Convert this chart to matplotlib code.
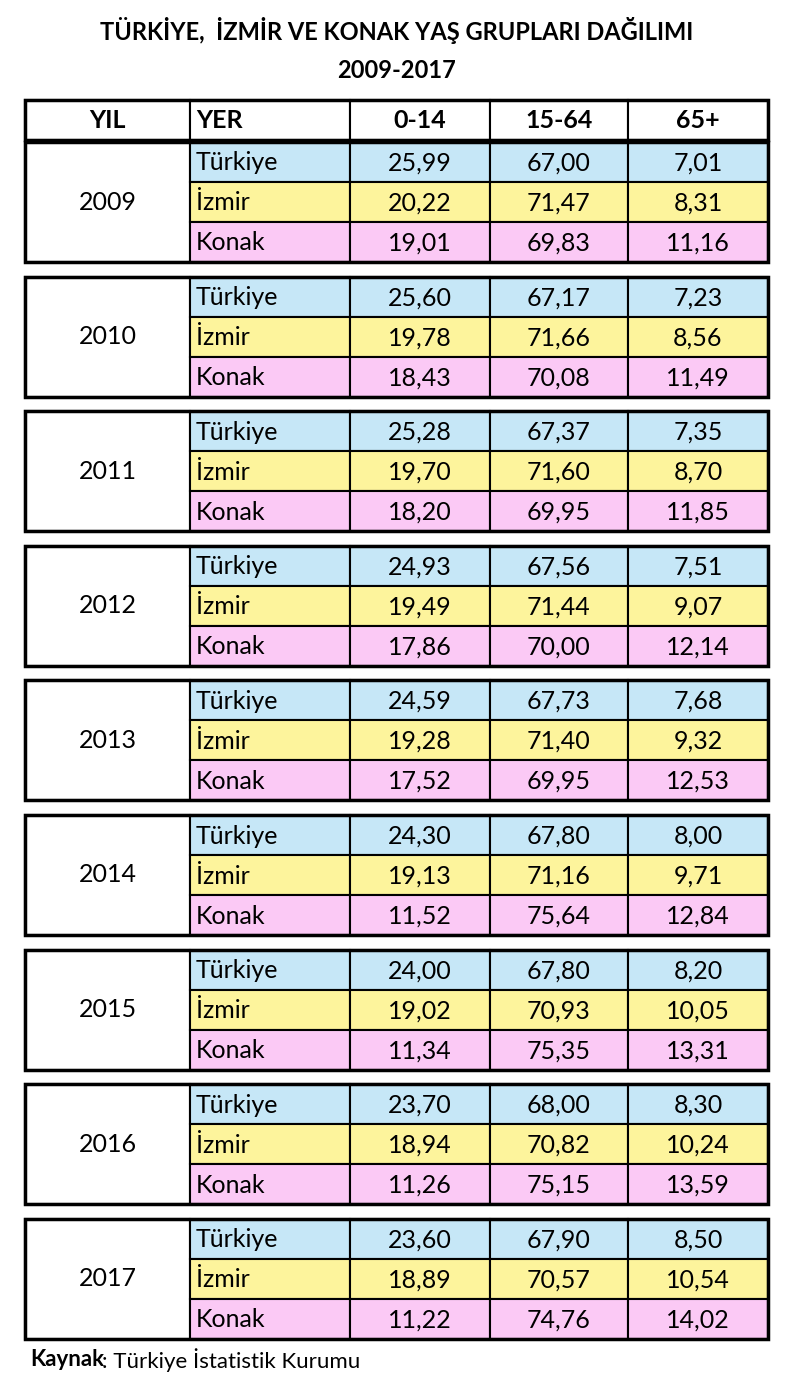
import matplotlib.pyplot as plt
from matplotlib.patches import Rectangle

years = ["2009", "2010", "2011", "2012", "2013", "2014", "2015", "2016", "2017"]
places = ["Türkiye", "İzmir", "Konak"]
headers = ["YIL", "YER", "0-14", "15-64", "65+"]
age_0_14 = [["25,99", "20,22", "19,01"], ["25,60", "19,78", "18,43"], ["25,28", "19,70", "18,20"],
            ["24,93", "19,49", "17,86"], ["24,59", "19,28", "17,52"], ["24,30", "19,13", "11,52"],
            ["24,00", "19,02", "11,34"], ["23,70", "18,94", "11,26"], ["23,60", "18,89", "11,22"]]
age_15_64 = [["67,00", "71,47", "69,83"], ["67,17", "71,66", "70,08"], ["67,37", "71,60", "69,95"],
             ["67,56", "71,44", "70,00"], ["67,73", "71,40", "69,95"], ["67,80", "71,16", "75,64"],
             ["67,80", "70,93", "75,35"], ["68,00", "70,82", "75,15"], ["67,90", "70,57", "74,76"]]
age_65 = [["7,01", "8,31", "11,16"], ["7,23", "8,56", "11,49"], ["7,35", "8,70", "11,85"],
          ["7,51", "9,07", "12,14"], ["7,68", "9,32", "12,53"], ["8,00", "9,71", "12,84"],
          ["8,20", "10,05", "13,31"], ["8,30", "10,24", "13,59"], ["8,50", "10,54", "14,02"]]
row_colors = ["#c6e7f7", "#fdf49c", "#fbc9f5"]

W, H = 793, 1379
fig = plt.figure(figsize=(W / 100, H / 100), dpi=100)
ax = fig.add_axes([0, 0, 1, 1])
ax.set_xlim(0, W)
ax.set_ylim(H, 0)
ax.axis("off")
plt.rcParams["font.family"] = ["Lato", "DejaVu Sans"]

cols = [25, 190, 350, 490, 628, 768]
fs = 18

ax.text(W / 2, 30, "TÜRKİYE,  İZMİR VE KONAK YAŞ GRUPLARI DAĞILIMI", ha="center", va="center",
        fontsize=17, fontweight="bold")
ax.text(W / 2, 70, "2009-2017", ha="center", va="center", fontsize=17, fontweight="bold")

# header
for i, h in enumerate(headers):
    ax.add_patch(Rectangle((cols[i], 100), cols[i + 1] - cols[i], 40, fc="white", ec="black", lw=1.5))
    if i == 1:
        ax.text(cols[i] + 6, 121, h, ha="left", va="center", fontsize=fs, fontweight="bold")
    else:
        ax.text((cols[i] + cols[i + 1]) / 2, 121, h, ha="center", va="center", fontsize=fs, fontweight="bold")
ax.add_patch(Rectangle((cols[0], 100), cols[-1] - cols[0], 40, fc="none", ec="black", lw=2.5))

rh = 40
for b, yr in enumerate(years):
    top = 142 + b * 134.6
    ax.add_patch(Rectangle((cols[0], top), cols[1] - cols[0], 3 * rh, fc="white", ec="black", lw=1.5))
    ax.text((cols[0] + cols[1]) / 2, top + 1.5 * rh, yr, ha="center", va="center", fontsize=fs)
    for r, pl in enumerate(places):
        y0 = top + r * rh
        vals = [age_0_14[b][r], age_15_64[b][r], age_65[b][r]]
        for c in range(1, 5):
            ax.add_patch(Rectangle((cols[c], y0), cols[c + 1] - cols[c], rh, fc=row_colors[r], ec="black", lw=1.5))
        ax.text(cols[1] + 6, y0 + rh / 2 + 1, pl, ha="left", va="center", fontsize=fs)
        for k, v in enumerate(vals):
            ax.text((cols[k + 2] + cols[k + 3]) / 2, y0 + rh / 2 + 1, v, ha="center", va="center", fontsize=fs)
    ax.add_patch(Rectangle((cols[0], top), cols[-1] - cols[0], 3 * rh, fc="none", ec="black", lw=2.5))

ax.text(30, 1360, "Kaynak", ha="left", va="center", fontsize=16, fontweight="bold")
ax.text(102, 1360, ": Türkiye İstatistik Kurumu", ha="left", va="center", fontsize=16)

fig.savefig("out.png", dpi=100)
